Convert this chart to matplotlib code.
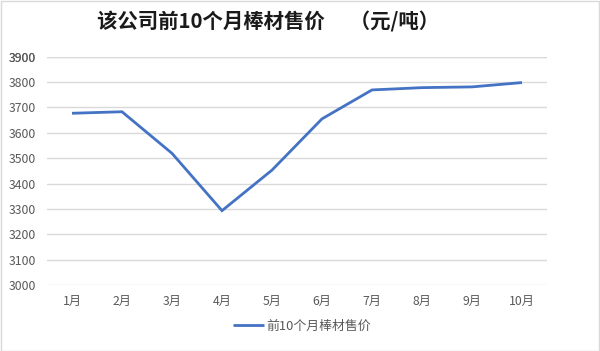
import matplotlib
matplotlib.use("Agg")
import matplotlib.pyplot as plt
from matplotlib.patches import Rectangle

plt.rcParams['font.family'] = ['Noto Sans CJK SC', 'DejaVu Sans']

months = ["1月", "2月", "3月", "4月", "5月", "6月", "7月", "8月", "9月", "10月"]
prices = [3677, 3683, 3519, 3293, 3453, 3655, 3769, 3778, 3781, 3798]
series_name = "前10个月棒材售价"
title = "该公司前10个月棒材售价　 （元/吨）"
yticks = list(range(3000, 4000, 100))

W, H = 600, 351
fig = plt.figure(figsize=(W / 100, H / 100), dpi=100)
ax = fig.add_axes([47 / W, 1 - 285 / H, 500 / W, (285 - 56.7) / H])

x = list(range(len(months)))
line, = ax.plot(x, prices, color="#4472C4", lw=2.0, solid_capstyle="butt",
                solid_joinstyle="miter", label=series_name, zorder=3)
ax.set_xlim(-0.5, len(months) - 0.5)
ax.set_ylim(3000, 3900)
ax.set_yticks(yticks + [3900])
ax.set_xticks(x)
ax.set_xticklabels(months)
ax.grid(axis="y", color="#D9D9D9", lw=1.0)
ax.set_axisbelow(True)
for s in ax.spines.values():
    s.set_visible(False)
ax.tick_params(axis="both", length=0, labelsize=8.8, labelcolor="#595959")
ax.tick_params(axis="y", pad=8)
ax.tick_params(axis="x", pad=7)

fig.text(97 / W, 1 - 22 / H, title, fontsize=14.7, fontweight="bold",
         color="#1a1a1a", ha="left", va="center")

leg = fig.legend(handles=[line], loc="center", bbox_to_anchor=(302 / W, 1 - 326 / H),
                 frameon=False, fontsize=9.3, handlelength=2.4, handletextpad=0.2)
for t in leg.get_texts():
    t.set_color("#595959")

fig.patches.append(Rectangle((0.5 / W, 0.5 / H), 1 - 1.5 / W, 1 - 1.5 / H,
                             transform=fig.transFigure, fill=False,
                             edgecolor="#D9D9D9", lw=1.0))

fig.savefig("out.png", dpi=100, facecolor="white")
